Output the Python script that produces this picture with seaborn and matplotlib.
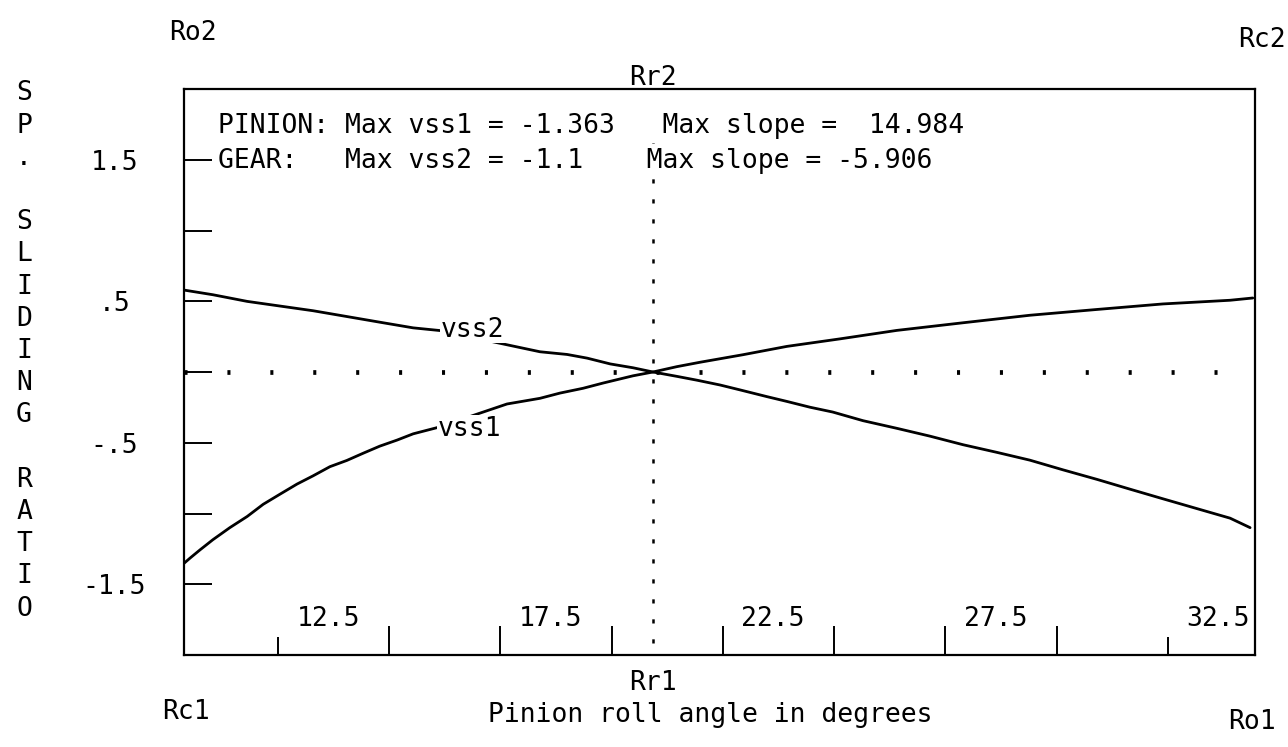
import numpy as np
import pandas as pd
import matplotlib
matplotlib.use("Agg")
import matplotlib.pyplot as plt
import matplotlib.transforms as mtransforms
import seaborn as sns

# Specific sliding vs pinion roll angle
vss1_angle = [7.85, 8.03, 8.25, 8.54, 8.92, 9.31, 9.67, 10.05, 10.43, 10.79,
              11.17, 11.55, 11.91, 12.29, 12.68, 13.04, 13.58, 15.15, 15.89,
              16.34, 16.86, 17.31, 17.98, 18.43, 18.97, 19.49, 20.45, 21.44,
              22.63, 23.91, 25.40, 26.90, 28.41, 29.89, 31.40, 31.91]
vss1_ratio = [-1.363, -1.314, -1.257, -1.185, -1.100, -1.021, -0.935, -0.863,
              -0.792, -0.734, -0.669, -0.625, -0.575, -0.524, -0.481, -0.437,
              -0.393, -0.226, -0.186, -0.149, -0.115, -0.078, -0.027, 0.0,
              0.038, 0.069, 0.122, 0.181, 0.234, 0.294, 0.348, 0.401, 0.442,
              0.481, 0.507, 0.523]

vss2_angle = [7.87, 8.54, 9.31, 10.05, 10.79, 11.55, 12.29, 13.04, 13.64,
              15.89, 16.50, 16.95, 17.47, 17.98, 18.43, 18.97, 19.42, 19.94,
              20.38, 20.99, 21.44, 21.96, 22.47, 23.15, 23.91, 24.65, 25.40,
              26.16, 26.90, 27.64, 28.41, 29.15, 29.89, 30.65, 31.40, 31.85]
vss2_ratio = [0.580, 0.546, 0.499, 0.466, 0.433, 0.392, 0.352, 0.312, 0.293,
              0.143, 0.124, 0.098, 0.057, 0.030, 0.0, -0.031, -0.058, -0.092,
              -0.126, -0.174, -0.208, -0.249, -0.283, -0.344, -0.398, -0.453,
              -0.514, -0.568, -0.623, -0.691, -0.759, -0.828, -0.896, -0.965,
              -1.033, -1.100]

pitch_angle = 18.42
x_range = (7.89, 31.96)
y_range = (-2.0, 2.0)

x_major = [12.5, 15.0, 17.5, 20.0, 22.5, 25.0, 27.5]
x_minor = [10.0, 30.0]
x_label_vals = [12.5, 17.5, 22.5, 27.5, 32.5]
x_label_text = ["12.5", "17.5", "22.5", "27.5", "32.5"]
y_ticks = [-1.5, -1.0, -0.5, 0.0, 0.5, 1.0, 1.5]
y_tick_text = ["-1.5", "", "-.5", "", ".5", "", "1.5"]

pinion_line = "PINION: Max vss1 = -1.363   Max slope =  14.984"
gear_line = "GEAR:   Max vss2 = -1.1    Max slope = -5.906"
y_title = "S\nP\n.\n \nS\nL\nI\nD\nI\nN\nG\n \nR\nA\nT\nI\nO"

sns.set_theme(style="white")
plt.rcParams["font.family"] = ["DejaVu Sans Mono", "DejaVu Sans"]
plt.rcParams["lines.scale_dashes"] = False
plt.rcParams["text.color"] = "black"
plt.rcParams["xtick.color"] = "black"
plt.rcParams["ytick.color"] = "black"
plt.rcParams["xtick.labelcolor"] = "black"
plt.rcParams["ytick.labelcolor"] = "black"
FS = 19

W, H = 1288, 747
fig = plt.figure(figsize=(W / 100, H / 100), dpi=100)
ax = fig.add_axes([184 / W, 1 - 655 / H, 1071 / W, 566 / H])

df1 = pd.DataFrame({"angle": vss1_angle, "ratio": vss1_ratio})
df2 = pd.DataFrame({"angle": vss2_angle, "ratio": vss2_ratio})
sns.lineplot(data=df1, x="angle", y="ratio", color="black", lw=2.0, ax=ax)
sns.lineplot(data=df2, x="angle", y="ratio", color="black", lw=2.0, ax=ax)

ax.set_xlim(*x_range)
ax.set_ylim(*y_range)
ax.set_xlabel("")
ax.set_ylabel("")

# dotted reference lines through zero and the pitch point
ax.axhline(0, color="black", lw=3.4, ls=(0, (2.2, 28.7)), zorder=1)
ax.axvline(pitch_angle, ymin=0.021, ymax=0.972, color="black", lw=1.8,
           ls=(0, (3.0, 11.4)), zorder=1)

for sp in ax.spines.values():
    sp.set_color("black")
    sp.set_linewidth(1.6)

ax.set_xticks(x_major)
ax.set_xticks(x_minor, minor=True)
ax.tick_params(axis="x", which="major", direction="in", length=21, width=1.4,
               labelbottom=False, bottom=True)
ax.tick_params(axis="x", which="minor", direction="in", length=13, width=1.4,
               bottom=True)
ax.set_yticks(y_ticks)
ax.set_yticklabels(y_tick_text)
ax.tick_params(axis="y", direction="in", length=20, width=1.4,
               left=True, pad=50, labelsize=FS)
for lbl in ax.get_yticklabels():
    lbl.set_ha("center")

bx = mtransforms.blended_transform_factory(ax.transData, ax.transAxes)
for v, t in zip(x_label_vals, x_label_text):
    ax.annotate(t, xy=(v, 0), xycoords=bx, xytext=(-21, 26),
                textcoords="offset points", ha="right", va="center",
                fontsize=FS, annotation_clip=False)

box = dict(fc="white", ec="none", pad=3)
ax.text(0.0317, 0.935, pinion_line, transform=ax.transAxes, fontsize=FS,
        va="center", ha="left", bbox=box, zorder=5)
ax.text(0.0317, 0.873, gear_line, transform=ax.transAxes, fontsize=FS,
        va="center", ha="left", bbox=box, zorder=5)

box_small = dict(fc="white", ec="none", pad=0.5)
ax.text(13.65, 0.30, "vss2", fontsize=FS, ha="left", va="center",
        bbox=box_small, zorder=5)
ax.text(13.60, -0.40, "vss1", fontsize=FS, ha="left", va="center",
        bbox=box_small, zorder=5)

# pitch point markers above and below the frame
ax.annotate("Rr2", xy=(pitch_angle, 1.0), xycoords=bx, xytext=(0, 8),
            textcoords="offset points", fontsize=FS, ha="center",
            va="center", annotation_clip=False)
ax.annotate("Rr1", xy=(pitch_angle, 0.0), xycoords=bx, xytext=(0, -20),
            textcoords="offset points", fontsize=FS, ha="center",
            va="center", annotation_clip=False)

fig.text(193 / W, 1 - 33 / H, "Ro2", fontsize=FS, ha="center", va="center")
fig.text(1262 / W, 1 - 40 / H, "Rc2", fontsize=FS, ha="center", va="center")
fig.text(186 / W, 1 - 712 / H, "Rc1", fontsize=FS, ha="center", va="center")
fig.text(1252 / W, 1 - 722 / H, "Ro1", fontsize=FS, ha="center", va="center")
fig.text(710 / W, 1 - 715 / H, "Pinion roll angle in degrees", fontsize=FS,
         ha="center", va="center")
fig.text(24 / W, 1 - 351 / H, y_title, fontsize=FS, ha="center", va="center",
         linespacing=1.31, multialignment="center")

fig.savefig("out.png", dpi=100, facecolor="white")
